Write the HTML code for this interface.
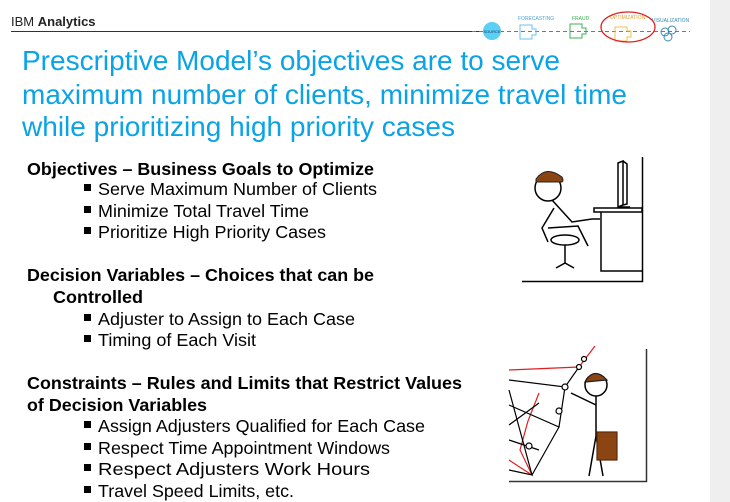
<!DOCTYPE html>
<html><head><meta charset="utf-8"><style>
html,body{margin:0;padding:0;background:#fff}
svg{display:block}
text{font-family:"Liberation Sans",Arial,sans-serif}
</style></head><body>
<svg width="730" height="502" viewBox="0 0 730 502">
<rect x="710" y="0" width="20" height="502" fill="#efefef"/>
<g>
<text x="11" y="26" font-size="13" fill="#222">IBM <tspan font-weight="bold">Analytics</tspan></text>
<line x1="11" y1="31.5" x2="480" y2="31.5" stroke="#333" stroke-width="1"/>
<line x1="472" y1="31.5" x2="690" y2="31.5" stroke="#777" stroke-width="1" stroke-dasharray="4,3"/>
<circle cx="492" cy="31" r="9" fill="#5ccff5"/>
<text x="492" y="33" font-size="4" fill="#135" text-anchor="middle">SOURCE</text>
<text x="518" y="20" font-size="5" fill="#4aa3d8">FORECASTING</text>
<path d="M520 25h12v4h4v6h-4v4h-12z" fill="none" stroke="#6bc0f0" stroke-width="1"/>
<text x="572" y="20" font-size="5" fill="#3cb050">FRAUD</text>
<path d="M570 24h12v4h4v6h-4v4h-12z" fill="none" stroke="#3cb050" stroke-width="1"/>
<text x="610" y="19" font-size="5" fill="#e0a030">OPTIMIZATION</text>
<path d="M615 27h12v4h4v6h-4v4h-12z" fill="none" stroke="#f0c050" stroke-width="1"/>
<ellipse cx="628" cy="27" rx="27" ry="15" fill="none" stroke="#e02020" stroke-width="1.3"/>
<text x="652" y="22" font-size="5" fill="#3a8ab8">VISUALIZATION</text>
<circle cx="665" cy="32" r="4" fill="none" stroke="#3a8ab8"/><circle cx="672" cy="30" r="4" fill="none" stroke="#3a8ab8"/><circle cx="668" cy="37" r="4" fill="none" stroke="#3a8ab8"/>
</g>
<g fill="#0aa3e6" font-size="28">
<text x="22" y="70" textLength="538" lengthAdjust="spacingAndGlyphs">Prescriptive Model’s objectives are to serve</text>
<text x="22" y="104" textLength="605" lengthAdjust="spacingAndGlyphs">maximum number of clients, minimize travel time</text>
<text x="22" y="136" textLength="433" lengthAdjust="spacingAndGlyphs">while prioritizing high priority cases</text>
</g>
<g font-size="17.5" fill="#000">
<text x="27" y="175" font-weight="bold" textLength="347" lengthAdjust="spacingAndGlyphs">Objectives – Business Goals to Optimize</text>
<text x="98" y="195" textLength="279" lengthAdjust="spacingAndGlyphs">Serve Maximum Number of Clients</text>
<text x="98" y="217" textLength="211" lengthAdjust="spacingAndGlyphs">Minimize Total Travel Time</text>
<text x="98" y="238" textLength="228" lengthAdjust="spacingAndGlyphs">Prioritize High Priority Cases</text>
<text x="27" y="281" font-weight="bold" textLength="347" lengthAdjust="spacingAndGlyphs">Decision Variables – Choices that can be</text>
<text x="53" y="303" font-weight="bold" textLength="90" lengthAdjust="spacingAndGlyphs">Controlled</text>
<text x="98" y="325" textLength="257" lengthAdjust="spacingAndGlyphs">Adjuster to Assign to Each Case</text>
<text x="98" y="346" textLength="158" lengthAdjust="spacingAndGlyphs">Timing of Each Visit</text>
<text x="27" y="389" font-weight="bold" textLength="435" lengthAdjust="spacingAndGlyphs">Constraints – Rules and Limits that Restrict Values</text>
<text x="27" y="411" font-weight="bold" textLength="180" lengthAdjust="spacingAndGlyphs">of Decision Variables</text>
<text x="98" y="432" textLength="327" lengthAdjust="spacingAndGlyphs">Assign Adjusters Qualified for Each Case</text>
<text x="98" y="454" textLength="292" lengthAdjust="spacingAndGlyphs">Respect Time Appointment Windows</text>
<text x="98" y="475" textLength="272" lengthAdjust="spacingAndGlyphs">Respect Adjusters Work Hours</text>
<text x="98" y="497" textLength="196" lengthAdjust="spacingAndGlyphs">Travel Speed Limits, etc.</text>
</g>
<g fill="#000">
<rect x="84" y="184" width="7" height="7"/><rect x="84" y="206" width="7" height="7"/><rect x="84" y="227" width="7" height="7"/>
<rect x="84" y="314" width="7" height="7"/><rect x="84" y="335" width="7" height="7"/>
<rect x="84" y="421" width="7" height="7"/><rect x="84" y="443" width="7" height="7"/><rect x="84" y="464" width="7" height="7"/><rect x="84" y="486" width="7" height="7"/>
</g>
<g fill="none" stroke="#000" stroke-width="1.5">
<path d="M522 281.5h120.5V157"/>
<path d="M594 208h48v4h-48z"/>
<path d="M601 212v59h41"/>
<path d="M618 163l5-2v44l-5 2z M623 161l4 3v40l-4 1"/>
<path d="M618 207h12"/>
<circle cx="548" cy="188" r="13" fill="#fff"/>
<path d="M536 179q10-14 26-2q2 4 0 5h-26z" fill="#8b4513" stroke="#222" stroke-width="1"/>
<path d="M552 200l20 22l20 -3M592 219h8M554 208l-12 20l6 14M548 228l30 -2l10 20"/>
<ellipse cx="565" cy="240" rx="14" ry="5"/>
<path d="M565 245v18M556 268l9-5l9 5"/>
</g>
<g fill="none" stroke-width="1.2">
<path d="M509 481.5h137.5V349" stroke="#333" stroke-width="1.5"/>
<path d="M509 370l70-3l16-21M509 460q15 10 23 15l-12-25l8-29l11-28" stroke="#e02020"/>
<path d="M509 380l56 7l14-20M509 405l50 22l6-40M509 425l30-22M509 440l30 10M509 470l23 5l27-48M509 390l23 85" stroke="#000"/>
<circle cx="565" cy="387" r="3" fill="#fff" stroke="#000"/>
<circle cx="579" cy="367" r="2.5" fill="#fff" stroke="#000"/>
<circle cx="584" cy="359" r="2.5" fill="#fff" stroke="#000"/>
<circle cx="559" cy="411" r="3" fill="#fff" stroke="#000"/>
<circle cx="529" cy="446" r="3" fill="#fff" stroke="#000"/>
<circle cx="596" cy="385" r="11" fill="#fff" stroke="#000" stroke-width="1.5"/>
<path d="M585 382q9-16 22 -2z" fill="#8b4513" stroke="#222"/>
<path d="M596 396v40l-7 40M596 436l7 40M596 405l-25 -12" stroke="#000" stroke-width="1.5"/>
<rect x="597" y="432" width="20" height="28" fill="#8b4513" stroke="#5a2a0a"/>
</g>
</svg>
</body></html>
